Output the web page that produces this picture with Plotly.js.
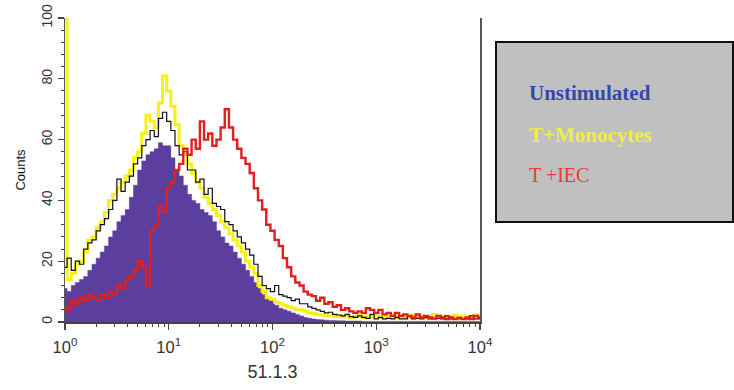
<!DOCTYPE html>
<html>
<head>
<meta charset="utf-8">
<script src="https://cdn.plot.ly/plotly-3.0.1.min.js"></script>
<style>html,body{margin:0;padding:0;background:#fff;}#chart{width:734px;height:390px;}</style>
</head>
<body>
<div id="chart"></div>
<script>
// Histogram channels: one bin every 0.04 decade from 10^0 to 10^4
const decadeStep = 0.04;

const legendLabels = ['Unstimulated', 'T+Monocytes', 'T +IEC'];
const xTickVals = [1, 10, 100, 1000, 10000];
const xTickText = ['10<sup>0</sup>', '10<sup>1</sup>', '10<sup>2</sup>', '10<sup>3</sup>', '10<sup>4</sup>'];
const yTickVals = [0, 20, 40, 60, 80, 100];

// Unstimulated (filled)
const unstimFill = [11,10,12,13,14,15,17,19,21,23, 25,28,30,33,35,37,41,45,50,53,
  55,56,57,59,58,58,54,50,48,45, 42,40,39,37,36,35,33,30,28,26,
  25,23,21,19,17,15,13,11,9,8, 7,5.5,4.5,4,3.5,3,2.5,2,1.5,1.2,
  1,0.8,0.7,0.6,0.5,0.5,0.4,0.4,0.3,0.3, 0.3,0.3,0.2,0.2,0.2,0.2,0.2,0.2,0.2,0.2,
  0.2,0.2,0.2,0.2,0.2,0.2,0.2,0.2,0.2,0.2, 0.2,0.2,0.2,0.2,0.2,0.2,0.2,0.2,0.2,0.2,0.2];
// Unstimulated (outline, black)
const unstimLine = [18,21,17,20,19,24,26,27,30,32, 34,37,40,47,43,46,48,52,54,58,
  60,63,61,67,69,66,63,58,55,56, 50,50,46,47,42,44,39,38,37,33,
  32,30,28,26,24,22,19,15,12,11, 10,12,9,8.5,8,7,7.5,6,6,5,
  4.5,4,3.5,3,3.2,2.5,2.3,2,2.5,1.8, 1.5,2,1.5,1.2,2.5,1,1.5,1,1.2,1,
  1.5,1,1,1.8,1,1.2,1,1.5,1,1, 1.2,1,2,1,1,1.5,1,1,2,1,1];
// T+Monocytes (yellow)
const tMono = [120,14,16,19,20,23,27,28,31,33, 36,40,42,44,46,48,50,54,56,62,
  68,66,64,72,81,76,71,65,58,55, 52,49,46,44,41,39,37,35,33,31,
  29,27,25,23,20,18,16,12,10,8, 7.5,6.5,6,5.5,5,4.5,4,4,3.5,3,
  2.8,2.5,2.3,2,2.2,1.8,2,1.7,2,1.5, 1.8,2.2,1.5,2,1.6,2.4,1.5,2,1.7,2.2,
  1.5,2,1.8,1.5,2.3,1.6,2,1.5,1.8,2.5, 1.6,2,1.5,1.8,2.2,1.5,2,1.6,1.8,2.3,1.5];
// T +IEC (red)
const tIEC = [5,4,7,6,8,7,9,8,7,9, 8,10,9,12,11,14,15,17,20,18,
  12,30,32,38,36,44,46,50,52,57, 55,60,57,66,60,62,58,60,64,70,
  64,60,57,54,52,49,44,40,37,32, 30,27,25,21,18,15,13,12,10,9,
  8.5,7,8,6,6.5,5,5.5,4,4.5,3.5, 3,3.5,3,4.5,4,3,4,2.5,3,2,
  3,2,2.5,2,1.5,2.5,1.5,2,1.5,1.2, 2,1.5,1,1.5,1,1.2,1,1.5,1,2,1.5];

const binX = unstimFill.map((_, i) => Math.pow(10, i * decadeStep));

const purple = 'rgb(91,62,158)';
const traces = [
  {x: binX, y: unstimFill, type: 'scatter', mode: 'lines', line: {shape: 'hvh', width: 0.5, color: purple},
   fill: 'tozeroy', fillcolor: purple, hoverinfo: 'skip'},
  {x: binX, y: tMono, type: 'scatter', mode: 'lines', line: {shape: 'hvh', width: 3, color: 'rgb(248,240,20)'}},
  {x: binX, y: unstimLine, type: 'scatter', mode: 'lines', line: {shape: 'hvh', width: 1.2, color: 'rgb(15,15,30)'}},
  {x: binX, y: tIEC, type: 'scatter', mode: 'lines', line: {shape: 'hvh', width: 2.4, color: 'rgb(228,30,30)'}}
];

const leftPx = 65, rightPx = 480, topPx = 18, botPx = 322;
const pw = rightPx - leftPx, ph = botPx - topPx;
const px2x = p => (p - leftPx) / pw;
const px2y = p => (botPx - p) / ph;

const layout = {
  width: 734, height: 390,
  margin: {l: leftPx, r: 734 - rightPx, t: topPx, b: 390 - botPx},
  paper_bgcolor: '#fff', plot_bgcolor: '#fff',
  showlegend: false,
  font: {family: 'Liberation Sans, Arial, sans-serif', color: '#333'},
  xaxis: {
    type: 'log', range: [0, 4], tickvals: xTickVals, ticktext: xTickText,
    ticks: 'outside', ticklen: 6, tickwidth: 1.2, tickcolor: '#444', ticklabelstandoff: 4,
    minor: {dtick: 'D1', ticks: 'outside', ticklen: 3, tickcolor: '#444', tickwidth: 1},
    showgrid: false, zeroline: false, showline: true, linecolor: '#444', linewidth: 1.5,
    tickfont: {size: 16.5, color: '#333'},
    title: {text: '51.1.3', font: {size: 18, color: '#333'}, standoff: 10}
  },
  yaxis: {
    range: [0, 100], tickvals: yTickVals, tickangle: -90,
    ticks: 'outside', ticklen: 6, tickwidth: 1.2, tickcolor: '#444',
    minor: {dtick: 4, ticks: 'outside', ticklen: 3, tickcolor: '#444', tickwidth: 1},
    showgrid: false, zeroline: false, showline: true, mirror: true, linecolor: '#555', linewidth: 1.5,
    tickfont: {size: 14, color: '#333'},
    title: {text: 'Counts', font: {size: 13, color: '#111'}, standoff: 10}
  },
  shapes: [
    {type: 'rect', xref: 'paper', yref: 'paper', x0: px2x(496), x1: px2x(733), y0: px2y(222), y1: px2y(42),
     fillcolor: '#c0c0c0', line: {color: '#111', width: 2}, layer: 'above'}
  ],
  annotations: [
    {text: '<b>' + legendLabels[0] + '</b>', xref: 'paper', yref: 'paper', x: px2x(527), y: px2y(93), xanchor: 'left', yanchor: 'middle', showarrow: false,
     font: {family: 'Liberation Serif, Times New Roman, serif', size: 21, color: 'rgb(52,72,172)'}},
    {text: '<b>' + legendLabels[1] + '</b>', xref: 'paper', yref: 'paper', x: px2x(527), y: px2y(135), xanchor: 'left', yanchor: 'middle', showarrow: false,
     font: {family: 'Liberation Serif, Times New Roman, serif', size: 21, color: 'rgb(240,238,70)'}},
    {text: legendLabels[2], xref: 'paper', yref: 'paper', x: px2x(527), y: px2y(175), xanchor: 'left', yanchor: 'middle', showarrow: false,
     font: {family: 'Liberation Serif, Times New Roman, serif', size: 20, color: 'rgb(232,60,50)'}}
  ]
};

Plotly.newPlot('chart', traces, layout, {displayModeBar: false, staticPlot: true});
</script>
</body>
</html>
